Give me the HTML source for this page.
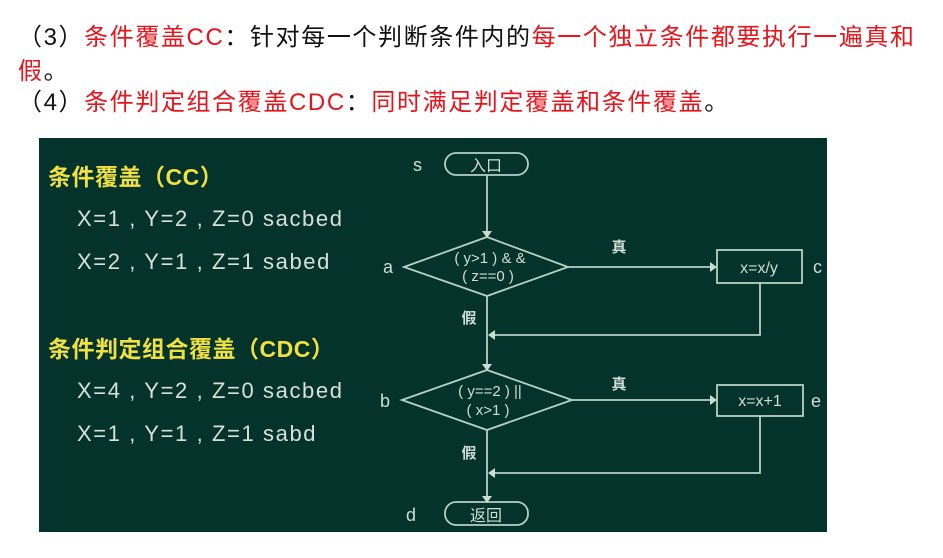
<!DOCTYPE html>
<html><head><meta charset="utf-8"><style>
body{margin:0;width:943px;height:558px;background:#fff;overflow:hidden;position:relative;font-family:"Liberation Sans","Noto Sans CJK SC",sans-serif}
.t{position:absolute;left:18px;font-size:24px;line-height:30px;color:#111;white-space:nowrap;font-family:"Liberation Sans","WenQuanYi Zen Hei",sans-serif;letter-spacing:1.6px}
.r{color:#e8141c}
</style></head><body>
<div class="t" style="top:23px">（3）<span class="r">条件覆盖CC</span>：针对每一个判断条件内的<span class="r">每一个独立条件都要执行一遍真和</span></div>
<div class="t" style="top:57px"><span class="r">假</span>。</div>
<div class="t" style="top:88px">（4）<span class="r">条件判定组合覆盖CDC</span>：<span class="r">同时满足判定覆盖和条件覆盖</span>。</div>
<svg style="position:absolute;left:0;top:0" width="943" height="558">
<rect x="39" y="138" width="788" height="394" fill="#03332a"/>
<g font-family="Liberation Sans,Noto Sans CJK SC,sans-serif">
<text x="48" y="185" fill="#f0e040" font-size="23" font-weight="bold" letter-spacing="0.5">条件覆盖（CC）</text>
<text x="77" y="226" fill="#d8e0da" font-size="22" letter-spacing="1.6">X=1 , Y=2 , Z=0   sacbed</text>
<text x="77" y="269" fill="#d8e0da" font-size="22" letter-spacing="1.6">X=2 , Y=1 , Z=1   sabed</text>
<text x="48" y="357" fill="#f0e040" font-size="23" font-weight="bold" letter-spacing="0.5">条件判定组合覆盖（CDC）</text>
<text x="77" y="398" fill="#d8e0da" font-size="22" letter-spacing="1.6">X=4 , Y=2 , Z=0  sacbed</text>
<text x="77" y="441" fill="#d8e0da" font-size="22" letter-spacing="1.6">X=1 , Y=1 , Z=1  sabd</text>
</g>
<g stroke="#b8d0c4" stroke-width="1.8" fill="none">
<rect x="445" y="153" width="83" height="22" rx="11"/>
<rect x="445" y="502" width="83" height="23" rx="11"/>
<line x1="487" y1="175" x2="487" y2="233"/>
<polygon points="404,267 487,237 568,267 487,296"/>
<line x1="568" y1="267" x2="712" y2="267"/>
<rect x="717" y="250" width="85" height="33"/>
<polyline points="760,283 760,335 491,335"/>
<line x1="487" y1="296" x2="487" y2="366"/>
<polygon points="402,400 487,370 572,400 487,430"/>
<line x1="572" y1="400" x2="712" y2="400"/>
<rect x="717" y="385" width="86" height="31"/>
<polyline points="760,416 760,473 491,473"/>
<line x1="487" y1="430" x2="487" y2="498"/>
</g>
<g fill="#c8dcd0">
<polygon points="482,231 492,231 487,238"/>
<polygon points="482,364 492,364 487,371"/>
<polygon points="482,496 492,496 487,503"/>
<polygon points="710,262 710,272 717,267"/>
<polygon points="710,395 710,405 717,400"/>
<polygon points="495,330 495,340 488,335"/>
<polygon points="495,468 495,478 488,473"/>
</g>
<g fill="#d0ddd6" font-family="Liberation Sans,Noto Sans CJK SC,sans-serif">
<text x="413" y="171" font-size="18">s</text>
<text x="486" y="171" font-size="16" text-anchor="middle">入口</text>
<text x="486" y="521" font-size="16" text-anchor="middle">返回</text>
<text x="383" y="273" font-size="18">a</text>
<text x="380" y="407" font-size="18">b</text>
<text x="406" y="521" font-size="18">d</text>
<text x="813" y="273" font-size="18">c</text>
<text x="811" y="407" font-size="18">e</text>
<text x="490" y="263" font-size="15" text-anchor="middle">( y&gt;1 ) &amp; &amp;</text>
<text x="488" y="281" font-size="15" text-anchor="middle">( z==0 )</text>
<text x="490" y="396" font-size="15" text-anchor="middle">( y==2 ) ||</text>
<text x="488" y="415" font-size="15" text-anchor="middle">( x&gt;1 )</text>
<text x="759" y="273" font-size="16" text-anchor="middle">x=x/y</text>
<text x="760" y="406" font-size="16" text-anchor="middle">x=x+1</text>
<text x="619" y="252" font-size="15" font-weight="bold" text-anchor="middle">真</text>
<text x="619" y="389" font-size="15" font-weight="bold" text-anchor="middle">真</text>
<text x="469" y="323" font-size="15" font-weight="bold" text-anchor="middle">假</text>
<text x="469" y="458" font-size="15" font-weight="bold" text-anchor="middle">假</text>
</g>
</svg>
</body></html>
